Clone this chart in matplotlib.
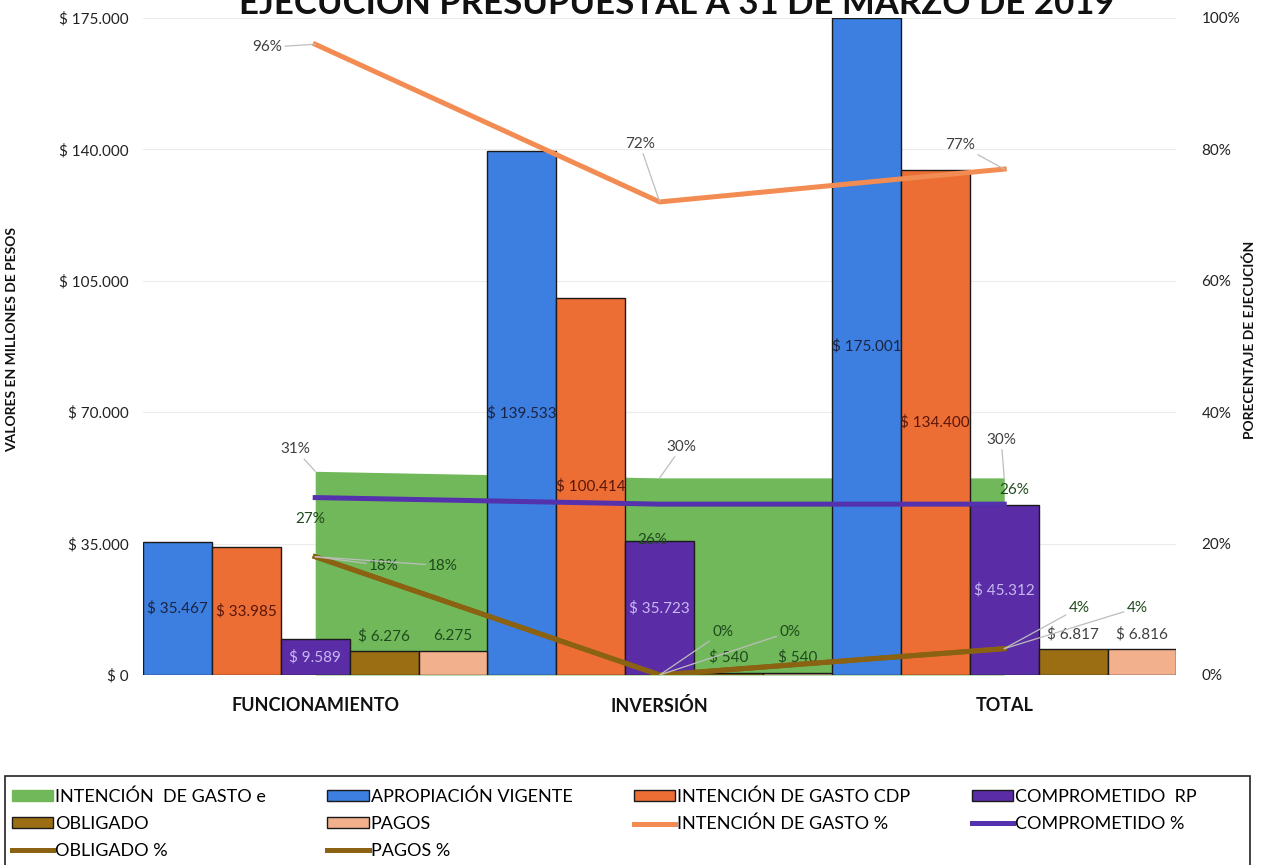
import numpy as np
import matplotlib
matplotlib.use("Agg")
import matplotlib.pyplot as plt
from matplotlib.patches import Patch, Rectangle
from matplotlib.lines import Line2D

plt.rcParams['font.family'] = ['Lato', 'DejaVu Sans']

categorias = ["FUNCIONAMIENTO", "INVERSIÓN", "TOTAL"]

# valores en millones de pesos
apropiacion = [35467, 139533, 175001]
cdp = [33985, 100414, 134400]
rp = [9589, 35723, 45312]
obligado = [6276, 540, 6817]
pagos = [6275, 540, 6816]

# porcentajes de ejecucion
intencion_e = [31, 30, 30]
intencion_pct = [96, 72, 77]
comprometido_pct = [27, 26, 26]
obligado_pct = [18, 0, 4]
pagos_pct = [18, 0, 4]

yticks = [0, 35000, 70000, 105000, 140000, 175000]
pticks = [0, 20, 40, 60, 80, 100]

c_green = '#71b85b'
c_blue = '#3d7fe0'
c_orange = '#ec6e35'
c_purple = '#5a2ca6'
c_obl = '#9c6e14'
c_pag = '#f2b08c'
c_oline = '#f28c52'
c_pline = '#5431ad'
c_bline = '#8a6212'

fig = plt.figure(figsize=(12.65, 8.65), dpi=100)
ax = fig.add_axes([0.113, 0.2197, 0.817, 0.7595])
ax2 = ax.twinx()

x = np.arange(len(categorias))
w = 0.2
ymax = 175000

# area (porcentaje) dibujada en el eje principal para que quede detras de las barras
ax.fill_between(x, [p / 100 * ymax for p in intencion_e], 0, color=c_green, lw=0, zorder=1)

series = [(apropiacion, c_blue), (cdp, c_orange), (rp, c_purple), (obligado, c_obl), (pagos, c_pag)]
bars = []
for k, (vals, col) in enumerate(series):
    b = ax.bar(x + (k - 2) * w, vals, w, color=col, edgecolor='#1a1a1a', lw=1.0, zorder=2)
    bars.append(b)

def fmt(v):
    return "$ " + f"{v:,.0f}".replace(",", ".")

# etiquetas centradas
for k, col in [(0, '#1c2340'), (1, '#5a1608'), (2, '#c9b8f2')]:
    for rect, v in zip(bars[k], series[k][0]):
        ax.text(rect.get_x() + w / 2, v / 2, fmt(v), ha='center', va='center',
                fontsize=11, color=col, zorder=5)

# etiquetas arriba
for k in (3, 4):
    for i, (rect, v) in enumerate(zip(bars[k], series[k][0])):
        s = fmt(v)
        if k == 4 and i == 0:
            s = "6.275"
        col = '#404040' if i == 2 else '#1f4a1c'
        ax.annotate(s, (rect.get_x() + w / 2, v), xytext=(0, 8), textcoords='offset pixels',
                    ha='center', va='bottom', fontsize=11, color=col, zorder=5)

ax.set_xlim(-0.5, 2.5)
ax.set_ylim(0, ymax)
ax.set_yticks(yticks)
ax.set_yticklabels([fmt(v) for v in yticks], fontsize=11, color='#222222')
ax.set_xticks(x)
ax.set_xticklabels(categorias, fontsize=13, fontweight='bold', color='#111111')
ax.tick_params(length=0, pad=10)
ax.tick_params(axis='x', pad=16)
ax.grid(axis='y', color='#ececec', lw=0.8, zorder=0)
ax.set_axisbelow(True)
for s in ax.spines.values():
    s.set_visible(False)

ax2.set_ylim(0, 100)
ax2.set_yticks(pticks)
ax2.set_yticklabels([f"{p}%" for p in pticks], fontsize=11, color='#222222')
ax2.tick_params(length=0, pad=18)
for s in ax2.spines.values():
    s.set_visible(False)

fig.text(0.0095, 0.607, "VALORES EN MILLONES DE PESOS", rotation=90, ha='center', va='center',
         fontsize=10, fontweight='bold', color='#111111')
fig.text(0.988, 0.607, "PORECENTAJE DE EJECUCIÓN", rotation=90, ha='center', va='center',
         fontsize=10, fontweight='bold', color='#111111')

ax2.plot(x, intencion_pct, color=c_oline, lw=3.6, zorder=4)
ax2.plot(x, comprometido_pct, color=c_pline, lw=3.6, zorder=4)
ax2.plot(x, obligado_pct, color=c_bline, lw=3.6, zorder=4)
ax2.plot(x, pagos_pct, color=c_bline, lw=3.6, zorder=4)

lead = dict(arrowstyle='-', color='#bdbdbd', lw=0.9, shrinkA=0, shrinkB=0)

def etiqueta(vals, offs, col, leader=True):
    for i, (v, o) in enumerate(zip(vals, offs)):
        ax2.annotate(f"{v}%", (i, v), xytext=o, textcoords='offset pixels',
                     ha='center', va='center', fontsize=11, color=col, zorder=6,
                     arrowprops=lead if leader else None)

etiqueta(intencion_pct, [(-48, -3), (-20, 58), (-44, 24)], '#404040')
etiqueta(intencion_e, [(-20, 22), (22, 31), (-3, 38)], '#404040')
etiqueta(comprometido_pct, [(-5, -21), (-7, -36), (10, 14)], '#1f4a1c', leader=False)
etiqueta(obligado_pct, [(69, -9), (63, 43), (75, 41)], '#1f4a1c')
etiqueta(pagos_pct, [(128, -9), (130, 43), (133, 41)], '#1f4a1c')

fig.text(0.535, 0.984, "EJECUCIÓN PRESUPUESTAL A 31 DE MARZO DE 2019", ha='center', va='baseline',
         fontsize=25, fontweight='bold', color='#111111')

handles = {
    'e': Patch(facecolor=c_green, edgecolor=c_green),
    'ap': Patch(facecolor=c_blue, edgecolor='#1a1a1a'),
    'cdp': Patch(facecolor=c_orange, edgecolor='#1a1a1a'),
    'rp': Patch(facecolor=c_purple, edgecolor='#1a1a1a'),
    'ob': Patch(facecolor=c_obl, edgecolor='#1a1a1a'),
    'pa': Patch(facecolor=c_pag, edgecolor='#1a1a1a'),
    'ip': Line2D([], [], color=c_oline, lw=3.6),
    'cp': Line2D([], [], color=c_pline, lw=3.6),
    'op': Line2D([], [], color=c_bline, lw=3.6),
    'pp': Line2D([], [], color=c_bline, lw=3.6),
}
nombres = {
    'e': "INTENCIÓN  DE GASTO e", 'ap': "APROPIACIÓN VIGENTE", 'cdp': "INTENCIÓN DE GASTO CDP",
    'rp': "COMPROMETIDO  RP", 'ob': "OBLIGADO", 'pa': "PAGOS", 'ip': "INTENCIÓN DE GASTO %",
    'cp': "COMPROMETIDO %", 'op': "OBLIGADO %", 'pp': "PAGOS %",
}
orden = ['e', 'ob', 'op', 'ap', 'pa', 'pp', 'cdp', 'ip', 'rp', 'cp']
leg = fig.legend([handles[k] for k in orden], [nombres[k] for k in orden], ncol=4,
                 loc='upper left', bbox_to_anchor=(0.005, 0.095),
                 fontsize=13, frameon=False,
                 handlelength=2.3, handleheight=0.55, handletextpad=0.1, labelspacing=0.62,
                 borderpad=0.3, borderaxespad=0.0, columnspacing=3.4)

# marco del cuadro de convenciones
fig.add_artist(Rectangle((0.004, -0.05), 0.984, 0.153, transform=fig.transFigure,
                         fill=False, edgecolor='#222222', lw=1.2))

fig.savefig("out.png", dpi=100)
